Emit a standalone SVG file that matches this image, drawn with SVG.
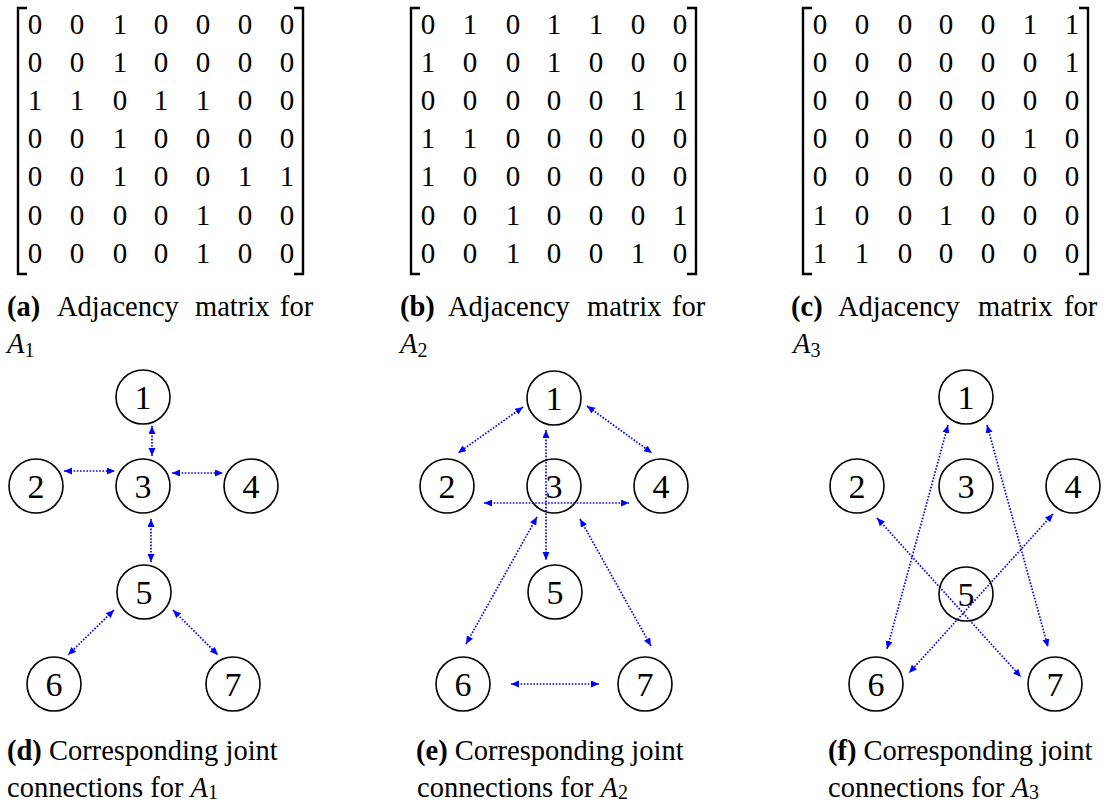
<svg xmlns="http://www.w3.org/2000/svg" width="1115" height="803" viewBox="0 0 1115 803">
  <style>
    text { font-family: "Liberation Serif", "Times New Roman", serif; fill: #000; }
    .m { font-size: 29px; text-anchor: middle; }
    .br { fill: none; stroke: #000; stroke-width: 2.4; }
    .cap { font-size: 28.5px; }
    .b { font-weight: bold; }
    .it { font-style: italic; }
    .sub { font-size: 20px; }
    .node circle { fill: #fff; stroke: #000; stroke-width: 1.6; }
    .node circle.open { fill: none; }
    .node text { font-size: 34px; text-anchor: middle; }
    .edge { stroke: #0000ff; stroke-width: 1.7; stroke-dasharray: 1.6 1.6; fill: none; marker-start: url(#ah); marker-end: url(#ah); }
  </style>
  <defs>
    <marker id="ah" markerUnits="userSpaceOnUse" markerWidth="9" markerHeight="8" refX="8" refY="3.5" orient="auto-start-reverse">
      <path d="M0,0 L8,3.5 L0,7 Z" fill="#0000ff"/>
    </marker>
  </defs>
  <rect width="1115" height="803" fill="#fff"/>

  <!-- matrix A1 -->
  <g id="matrix-a">
    <path class="br" d="M27,8 H18 V274 H27"/>
    <path class="br" d="M294,8 H303 V274 H294"/>
    <g class="m">
      <text x="35" y="34">0</text><text x="77" y="34">0</text><text x="120" y="34">1</text><text x="161" y="34">0</text><text x="203" y="34">0</text><text x="245" y="34">0</text><text x="287" y="34">0</text>
      <text x="35" y="72">0</text><text x="77" y="72">0</text><text x="120" y="72">1</text><text x="161" y="72">0</text><text x="203" y="72">0</text><text x="245" y="72">0</text><text x="287" y="72">0</text>
      <text x="35" y="110">1</text><text x="77" y="110">1</text><text x="120" y="110">0</text><text x="161" y="110">1</text><text x="203" y="110">1</text><text x="245" y="110">0</text><text x="287" y="110">0</text>
      <text x="35" y="148">0</text><text x="77" y="148">0</text><text x="120" y="148">1</text><text x="161" y="148">0</text><text x="203" y="148">0</text><text x="245" y="148">0</text><text x="287" y="148">0</text>
      <text x="35" y="186">0</text><text x="77" y="186">0</text><text x="120" y="186">1</text><text x="161" y="186">0</text><text x="203" y="186">0</text><text x="245" y="186">1</text><text x="287" y="186">1</text>
      <text x="35" y="225">0</text><text x="77" y="225">0</text><text x="120" y="225">0</text><text x="161" y="225">0</text><text x="203" y="225">1</text><text x="245" y="225">0</text><text x="287" y="225">0</text>
      <text x="35" y="263">0</text><text x="77" y="263">0</text><text x="120" y="263">0</text><text x="161" y="263">0</text><text x="203" y="263">1</text><text x="245" y="263">0</text><text x="287" y="263">0</text>
    </g>
  </g>

  <!-- matrix A2 -->
  <g id="matrix-b" transform="translate(393,0)">
    <path class="br" d="M27,8 H18 V274 H27"/>
    <path class="br" d="M294,8 H303 V274 H294"/>
    <g class="m">
      <text x="35" y="34">0</text><text x="77" y="34">1</text><text x="120" y="34">0</text><text x="161" y="34">1</text><text x="203" y="34">1</text><text x="245" y="34">0</text><text x="287" y="34">0</text>
      <text x="35" y="72">1</text><text x="77" y="72">0</text><text x="120" y="72">0</text><text x="161" y="72">1</text><text x="203" y="72">0</text><text x="245" y="72">0</text><text x="287" y="72">0</text>
      <text x="35" y="110">0</text><text x="77" y="110">0</text><text x="120" y="110">0</text><text x="161" y="110">0</text><text x="203" y="110">0</text><text x="245" y="110">1</text><text x="287" y="110">1</text>
      <text x="35" y="148">1</text><text x="77" y="148">1</text><text x="120" y="148">0</text><text x="161" y="148">0</text><text x="203" y="148">0</text><text x="245" y="148">0</text><text x="287" y="148">0</text>
      <text x="35" y="186">1</text><text x="77" y="186">0</text><text x="120" y="186">0</text><text x="161" y="186">0</text><text x="203" y="186">0</text><text x="245" y="186">0</text><text x="287" y="186">0</text>
      <text x="35" y="225">0</text><text x="77" y="225">0</text><text x="120" y="225">1</text><text x="161" y="225">0</text><text x="203" y="225">0</text><text x="245" y="225">0</text><text x="287" y="225">1</text>
      <text x="35" y="263">0</text><text x="77" y="263">0</text><text x="120" y="263">1</text><text x="161" y="263">0</text><text x="203" y="263">0</text><text x="245" y="263">1</text><text x="287" y="263">0</text>
    </g>
  </g>

  <!-- matrix A3 -->
  <g id="matrix-c" transform="translate(785,0)">
    <path class="br" d="M27,8 H18 V274 H27"/>
    <path class="br" d="M294,8 H303 V274 H294"/>
    <g class="m">
      <text x="35" y="34">0</text><text x="77" y="34">0</text><text x="120" y="34">0</text><text x="161" y="34">0</text><text x="203" y="34">0</text><text x="245" y="34">1</text><text x="287" y="34">1</text>
      <text x="35" y="72">0</text><text x="77" y="72">0</text><text x="120" y="72">0</text><text x="161" y="72">0</text><text x="203" y="72">0</text><text x="245" y="72">0</text><text x="287" y="72">1</text>
      <text x="35" y="110">0</text><text x="77" y="110">0</text><text x="120" y="110">0</text><text x="161" y="110">0</text><text x="203" y="110">0</text><text x="245" y="110">0</text><text x="287" y="110">0</text>
      <text x="35" y="148">0</text><text x="77" y="148">0</text><text x="120" y="148">0</text><text x="161" y="148">0</text><text x="203" y="148">0</text><text x="245" y="148">1</text><text x="287" y="148">0</text>
      <text x="35" y="186">0</text><text x="77" y="186">0</text><text x="120" y="186">0</text><text x="161" y="186">0</text><text x="203" y="186">0</text><text x="245" y="186">0</text><text x="287" y="186">0</text>
      <text x="35" y="225">1</text><text x="77" y="225">0</text><text x="120" y="225">0</text><text x="161" y="225">1</text><text x="203" y="225">0</text><text x="245" y="225">0</text><text x="287" y="225">0</text>
      <text x="35" y="263">1</text><text x="77" y="263">1</text><text x="120" y="263">0</text><text x="161" y="263">0</text><text x="203" y="263">0</text><text x="245" y="263">0</text><text x="287" y="263">0</text>
    </g>
  </g>

  <!-- matrix captions -->
  <g class="cap">
    <text x="7" y="316"><tspan class="b">(a)</tspan></text>
    <text x="57" y="316">Adjacency</text><text x="195" y="316">matrix</text><text x="280" y="316">for</text>
    <text x="7" y="353"><tspan class="it">A</tspan><tspan class="sub" dy="4">1</tspan></text>

    <text x="400" y="316"><tspan class="b">(b)</tspan></text>
    <text x="448" y="316">Adjacency</text><text x="587" y="316">matrix</text><text x="672" y="316">for</text>
    <text x="400" y="353"><tspan class="it">A</tspan><tspan class="sub" dy="4">2</tspan></text>

    <text x="791" y="316"><tspan class="b">(c)</tspan></text>
    <text x="838" y="316">Adjacency</text><text x="978" y="316">matrix</text><text x="1064" y="316">for</text>
    <text x="793" y="353"><tspan class="it">A</tspan><tspan class="sub" dy="4">3</tspan></text>
  </g>

  <!-- connectors -->
  <g id="connectors">
    <!-- A1 -->
    <line class="edge" x1="152" y1="426" x2="152" y2="456"/>
    <line class="edge" x1="64" y1="471" x2="115" y2="471"/>
    <line class="edge" x1="172" y1="473" x2="223" y2="473"/>
    <line class="edge" x1="151" y1="519" x2="151" y2="562"/>
    <line class="edge" x1="114" y1="610" x2="68" y2="655"/>
    <line class="edge" x1="173" y1="610" x2="218" y2="655"/>
    <!-- A2 -->
    <line class="edge" x1="523" y1="407" x2="458" y2="453"/>
    <line class="edge" x1="587" y1="406" x2="652" y2="453"/>
    <line class="edge" x1="546" y1="430" x2="546" y2="560"/>
    <line class="edge" x1="484" y1="503" x2="629" y2="503"/>
    <line class="edge" x1="537" y1="517" x2="466" y2="644"/>
    <line class="edge" x1="580" y1="519" x2="651" y2="646"/>
    <line class="edge" x1="511" y1="684" x2="599" y2="684"/>
    <!-- A3 -->
    <line class="edge" x1="948" y1="425" x2="887" y2="649"/>
    <line class="edge" x1="987" y1="425" x2="1048" y2="647"/>
    <line class="edge" x1="877" y1="518" x2="1021" y2="677"/>
    <line class="edge" x1="1053" y1="514" x2="909" y2="673"/>
  </g>

  <!-- joints for A1 -->
  <g id="d-1" class="node"><circle cx="143" cy="397" r="27"/><text x="143" y="409">1</text></g>
  <g id="d-2" class="node"><circle cx="36" cy="486" r="27"/><text x="36" y="498">2</text></g>
  <g id="d-3" class="node"><circle cx="143" cy="486" r="27"/><text x="143" y="498">3</text></g>
  <g id="d-4" class="node"><circle cx="251" cy="486" r="27"/><text x="251" y="498">4</text></g>
  <g id="d-5" class="node"><circle cx="144" cy="592" r="27"/><text x="144" y="604">5</text></g>
  <g id="d-6" class="node"><circle cx="54" cy="684" r="27"/><text x="54" y="696">6</text></g>
  <g id="d-7" class="node"><circle cx="233" cy="684" r="27"/><text x="233" y="696">7</text></g>

  <!-- joints for A2 (joint 3 left open so crossing links show through) -->
  <g id="e-1" class="node"><circle cx="554" cy="398" r="27"/><text x="554" y="410">1</text></g>
  <g id="e-2" class="node"><circle cx="447" cy="486" r="27"/><text x="447" y="498">2</text></g>
  <g id="e-3" class="node"><circle class="open" cx="554" cy="486" r="27"/><text x="554" y="498">3</text></g>
  <g id="e-4" class="node"><circle cx="661" cy="486" r="27"/><text x="661" y="498">4</text></g>
  <g id="e-5" class="node"><circle cx="555" cy="592" r="27"/><text x="555" y="604">5</text></g>
  <g id="e-6" class="node"><circle cx="463" cy="684" r="27"/><text x="463" y="696">6</text></g>
  <g id="e-7" class="node"><circle cx="645" cy="684" r="27"/><text x="645" y="696">7</text></g>

  <!-- joints for A3 (joint 5 left open) -->
  <g id="f-1" class="node"><circle cx="966" cy="397" r="27"/><text x="966" y="409">1</text></g>
  <g id="f-2" class="node"><circle cx="857" cy="486" r="27"/><text x="857" y="498">2</text></g>
  <g id="f-3" class="node"><circle cx="966" cy="486" r="27"/><text x="966" y="498">3</text></g>
  <g id="f-4" class="node"><circle cx="1073" cy="486" r="27"/><text x="1073" y="498">4</text></g>
  <g id="f-5" class="node"><circle class="open" cx="966" cy="594" r="27"/><text x="966" y="606">5</text></g>
  <g id="f-6" class="node"><circle cx="876" cy="684" r="27"/><text x="876" y="696">6</text></g>
  <g id="f-7" class="node"><circle cx="1055" cy="684" r="27"/><text x="1055" y="696">7</text></g>

  <!-- graph captions -->
  <g class="cap">
    <text x="7" y="760"><tspan class="b">(d)</tspan> Corresponding joint</text>
    <text x="7" y="797">connections for <tspan class="it">A</tspan><tspan class="sub" dy="2">1</tspan></text>
    <text x="416" y="760"><tspan class="b">(e)</tspan> Corresponding joint</text>
    <text x="417" y="797">connections for <tspan class="it">A</tspan><tspan class="sub" dy="2">2</tspan></text>
    <text x="828" y="760"><tspan class="b">(f)</tspan> Corresponding joint</text>
    <text x="828" y="797">connections for <tspan class="it">A</tspan><tspan class="sub" dy="2">3</tspan></text>
  </g>
</svg>
